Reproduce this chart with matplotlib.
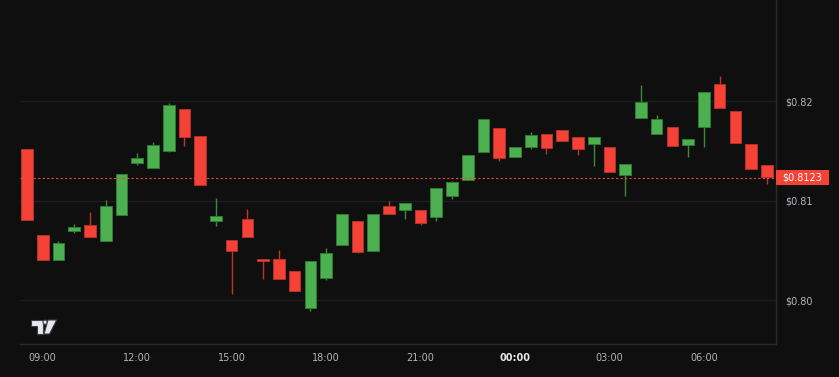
import pandas as pd
import matplotlib
matplotlib.use("Agg")
import matplotlib.pyplot as plt
import matplotlib.transforms as mtransforms
from matplotlib.patches import Rectangle, Polygon, Circle

# OHLC of 30 minute candles
open_ = [0.81519, 0.80653, 0.80408, 0.80696, 0.80756, 0.80599, 0.80860, 0.81381,
         0.81331, 0.81498, 0.81923, 0.81646, 0.80796, 0.80609, 0.80816, 0.80418,
         0.80412, 0.80295, 0.79924, 0.80228, 0.80553, 0.80796, 0.80499, 0.80950,
         0.80907, 0.80907, 0.80834, 0.81050, 0.81211, 0.81488, 0.81729, 0.81435,
         0.81542, 0.81672, 0.81709, 0.81636, 0.81569, 0.81539, 0.81255, 0.81832,
         0.81669, 0.81736, 0.81559, 0.81742, 0.82174, 0.81897, 0.81572, 0.81355]
high = [0.81519, 0.80653, 0.80599, 0.80769, 0.80887, 0.81004, 0.81268, 0.81478,
        0.81589, 0.81980, 0.81923, 0.81646, 0.81024, 0.80609, 0.80917, 0.80418,
        0.80503, 0.80295, 0.80395, 0.80526, 0.80864, 0.80796, 0.80870, 0.80997,
        0.80977, 0.80907, 0.81130, 0.81198, 0.81458, 0.81819, 0.81729, 0.81539,
        0.81689, 0.81672, 0.81709, 0.81636, 0.81636, 0.81539, 0.81365, 0.82160,
        0.81860, 0.81736, 0.81619, 0.82087, 0.82251, 0.81897, 0.81572, 0.81355]
low = [0.80806, 0.80408, 0.80408, 0.80679, 0.80636, 0.80599, 0.80860, 0.81355,
       0.81331, 0.81488, 0.81552, 0.81157, 0.80749, 0.80064, 0.80636, 0.80212,
       0.80212, 0.80094, 0.79897, 0.80205, 0.80553, 0.80478, 0.80499, 0.80870,
       0.80816, 0.80759, 0.80799, 0.81020, 0.81211, 0.81488, 0.81398, 0.81435,
       0.81519, 0.81471, 0.81599, 0.81455, 0.81348, 0.81291, 0.81047, 0.81832,
       0.81669, 0.81549, 0.81435, 0.81542, 0.81933, 0.81576, 0.81315, 0.81171]
close = [0.80806, 0.80408, 0.80576, 0.80736, 0.80636, 0.80944, 0.81268, 0.81428,
         0.81556, 0.81960, 0.81642, 0.81157, 0.80844, 0.80492, 0.80636, 0.80398,
         0.80212, 0.80094, 0.80395, 0.80475, 0.80864, 0.80488, 0.80870, 0.80870,
         0.80977, 0.80779, 0.81130, 0.81188, 0.81458, 0.81819, 0.81428, 0.81539,
         0.81656, 0.81526, 0.81599, 0.81519, 0.81636, 0.81291, 0.81365, 0.81990,
         0.81816, 0.81549, 0.81619, 0.82087, 0.81933, 0.81576, 0.81315, 0.81235]
times = pd.date_range("2024-05-01 08:30", periods=len(close), freq="30min")
price_ticks = [0.80, 0.81, 0.82]
last_price = 0.8123

BG = "#0f0f0f"
UP = "#4caf50"
DOWN = "#f44336"
UP_WICK = "#3a8a3d"
DOWN_WICK = "#c4312a"
GRID = "#1e1e1e"
TEXT = "#b2b5be"

plt.rcParams["font.family"] = ["DejaVu Sans"]

fig = plt.figure(figsize=(8.39, 3.77), dpi=100, facecolor=BG)
ax = fig.add_axes([20 / 839, 33 / 377, 755.5 / 839, 344 / 377])
ax.set_facecolor(BG)

# candles
for i, (o, h, l, c) in enumerate(zip(open_, high, low, close)):
    up = c >= o
    ax.vlines(i, l, h, color=UP_WICK if up else DOWN_WICK, lw=1, zorder=2)
    body = max(abs(c - o), 0.00002)
    ax.bar(i, body, bottom=min(o, c), width=0.74,
           color=UP if up else DOWN,
           edgecolor="#2f7a32" if up else "#b5302a", linewidth=0.7, zorder=3)

ax.set_xlim(-0.445, len(close) - 0.45)
ax.set_ylim(0.79563, 0.83013)

# grid
for p in price_ticks:
    ax.axhline(p, color=GRID, lw=1, zorder=1)

# last price line + label
ax.axhline(last_price, color=DOWN, lw=0.8, ls=(0, (2, 2)), zorder=4)
trans = mtransforms.blended_transform_factory(ax.transAxes, ax.transData)
ax.add_patch(Rectangle((1.0, last_price - 0.00075), 53 / 755.5, 0.0015,
                       transform=trans, clip_on=False, facecolor=DOWN,
                       edgecolor="none", zorder=5))
ax.text(1.0 + 26.5 / 755.5, last_price, "$%.4f" % last_price, transform=trans,
        ha="center", va="center", color="white", fontsize=7, zorder=6)

# axes
ax.yaxis.tick_right()
ax.set_yticks(price_ticks)
ax.set_yticklabels(["$%.2f" % p for p in price_ticks])
tick_idx = [i for i, t in enumerate(times) if t.minute == 0 and t.hour % 3 == 0]
ax.set_xticks(tick_idx)
ax.set_xticklabels([times[i].strftime("%H:%M") for i in tick_idx])
ax.tick_params(axis="y", length=0, pad=7, labelsize=7, labelcolor=TEXT)
ax.tick_params(axis="x", length=0, pad=6.5, labelsize=7, labelcolor=TEXT)
for lab in ax.get_xticklabels():
    if lab.get_text() == "00:00":
        lab.set_fontweight("bold")
        lab.set_color("#e8e8e8")

for s in ["left", "top"]:
    ax.spines[s].set_visible(False)
for s in ["right", "bottom"]:
    ax.spines[s].set_color("#2a2a2a")
    ax.spines[s].set_linewidth(1)

# TradingView logo, drawn in pixel coordinates
lg = fig.add_axes([0, 0, 1, 1])
lg.set_xlim(0, 839)
lg.set_ylim(377, 0)
lg.axis("off")
lg.patch.set_alpha(0)
logo_face = "#e6e8ee"
logo_edge = "#3c404c"
lg.add_patch(Polygon([(31, 320), (42.7, 320), (42.7, 334), (36.7, 334),
                      (36.7, 325.7), (31, 325.7)],
                     facecolor=logo_face, edgecolor=logo_edge, lw=0.8))
lg.add_patch(Circle((45.1, 322.2), 2.1, facecolor=logo_face, edgecolor=logo_edge, lw=0.8))
lg.add_patch(Polygon([(48, 320), (56.7, 320), (49.5, 334), (44, 334)],
                     facecolor=logo_face, edgecolor=logo_edge, lw=0.8))

fig.savefig("out.png", dpi=100, facecolor=BG)
